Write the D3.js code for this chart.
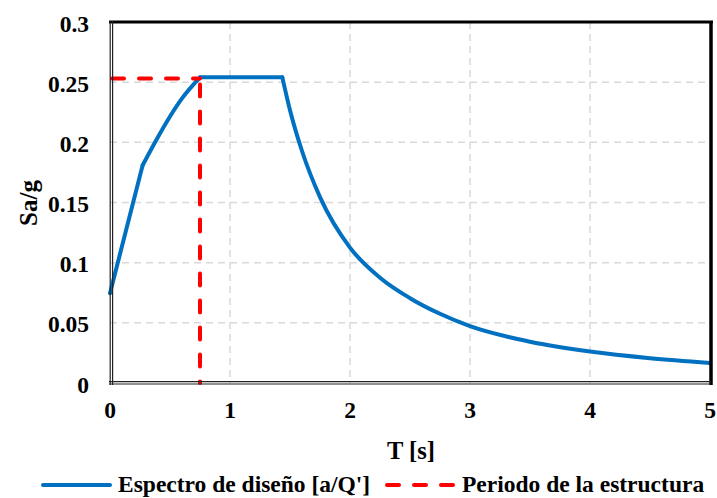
<!DOCTYPE html>
<html>
<head>
<meta charset="utf-8">
<script src="https://cdn.jsdelivr.net/npm/d3@7"></script>
<style>
html,body{margin:0;padding:0;background:#fff;}
svg{display:block;}
text{font-family:"Liberation Serif","Times New Roman","DejaVu Serif",serif;font-weight:bold;fill:#000;}
</style>
</head>
<body>
<svg id="chart" width="717" height="498"></svg>
<script>
// ---- data ----
const periodT = [0, 0.272, 0.4, 0.5, 0.6, 0.75, 1.436, 1.5, 1.6, 1.75, 2.0, 2.25, 2.5, 2.75, 3.0, 3.5, 4.0, 4.5, 5.0];
const spectrumSa = [0.0746, 0.181, 0.2045, 0.2215, 0.2365, 0.254, 0.254, 0.2267, 0.1928, 0.1545, 0.1125, 0.0875, 0.0705, 0.0575, 0.0472, 0.0343, 0.0261, 0.0206, 0.0167];
const segmentBreaks = [0, 1, 5, 6, 18]; // knee, plateau start, plateau end, last
const structurePeriod = 0.75;
const structureSa = 0.253;
const xTicks = [0, 1, 2, 3, 4, 5];
const yTicks = [0, 0.05, 0.1, 0.15, 0.2, 0.25, 0.3];
const yTickLabels = ["0", "0.05", "0.1", "0.15", "0.2", "0.25", "0.3"];
const legendLabels = ["Espectro de diseño [a/Q']", "Periodo de la estructura"];
const xTitle = "T [s]";
const yTitle = "Sa/g";

const svg = d3.select("#chart");
const x = d3.scaleLinear().domain([0, 5]).range([110, 710]);
const y = d3.scaleLinear().domain([0, 0.3]).range([383, 22]);
const blue = "#0070C0", red = "#FF0000";

// grid
const grid = svg.append("g").attr("stroke", "#d9d9d9").attr("stroke-width", 1.5).attr("stroke-dasharray", "7,5");
grid.selectAll(".gx").data(xTicks.filter(t => t > 0 && t < 5)).enter().append("line")
  .attr("x1", d => x(d)).attr("x2", d => x(d)).attr("y1", y(0.3)).attr("y2", y(0));
grid.selectAll(".gy").data(yTicks.filter(t => t > 0 && t < 0.3)).enter().append("line")
  .attr("y1", d => y(d)).attr("y2", d => y(d)).attr("x1", x(0)).attr("x2", x(5));

// spectrum line, segment by segment
const pts = periodT.map((t, i) => [t, spectrumSa[i]]);
const line = d3.line().x(d => x(d[0])).y(d => y(d[1])).curve(d3.curveMonotoneX);
for (let s = 0; s < segmentBreaks.length - 1; s++) {
  svg.append("path").datum(pts.slice(segmentBreaks[s], segmentBreaks[s + 1] + 1))
    .attr("d", line).attr("fill", "none").attr("stroke", blue).attr("stroke-width", 4)
    .attr("stroke-linejoin", "round").attr("stroke-linecap", "round");
}

// structure period dashed lines
const dashAttrs = sel => sel.attr("stroke", red).attr("stroke-width", 4).attr("stroke-dasharray", "12,15").attr("stroke-linecap", "round").attr("fill", "none");
svg.append("line").attr("x1", x(0) + 2).attr("x2", x(structurePeriod)).attr("y1", y(structureSa)).attr("y2", y(structureSa)).call(dashAttrs);
svg.append("line").attr("x1", x(structurePeriod)).attr("x2", x(structurePeriod)).attr("y1", y(structureSa)).attr("y2", y(0)).call(dashAttrs)
  .attr("stroke-dashoffset", -6);

// frame
svg.append("line").attr("x1", 109).attr("x2", 713).attr("y1", 22).attr("y2", 22).attr("stroke", "#000").attr("stroke-width", 3);
svg.append("line").attr("x1", 711).attr("x2", 711).attr("y1", 21).attr("y2", 385).attr("stroke", "#000").attr("stroke-width", 3.5);
// double lines left and bottom
[110.2, 112.6].forEach(px => svg.append("line").attr("x1", px).attr("x2", px).attr("y1", 21).attr("y2", 385).attr("stroke", "#222").attr("stroke-width", 1.2));
[381.6, 384].forEach(py => svg.append("line").attr("x1", 109).attr("x2", 711).attr("y1", py).attr("y2", py).attr("stroke", "#222").attr("stroke-width", 1.2));

// tick labels
svg.append("g").selectAll("text").data(xTicks).enter().append("text")
  .attr("x", d => x(d)).attr("y", 418).attr("text-anchor", "middle").attr("font-size", 23.5).text(d => d);
svg.append("g").selectAll("text").data(yTicks).enter().append("text")
  .attr("x", 89).attr("y", d => y(d) + 9.5).attr("text-anchor", "end").attr("font-size", 23.5).text((d, i) => yTickLabels[i]);

// axis titles
svg.append("text").attr("x", 411).attr("y", 459).attr("text-anchor", "middle").attr("font-size", 24.5).text(xTitle);
svg.append("text").attr("transform", "translate(37,203) rotate(-90)").attr("text-anchor", "middle").attr("font-size", 25).text(yTitle);

// legend
svg.append("line").attr("x1", 43).attr("x2", 110).attr("y1", 485).attr("y2", 485).attr("stroke", blue).attr("stroke-width", 4).attr("stroke-linecap", "round");
svg.append("text").attr("x", 118).attr("y", 492).attr("font-size", 23.5).text(legendLabels[0]);
svg.append("line").attr("x1", 387).attr("x2", 453).attr("y1", 485).attr("y2", 485).call(dashAttrs);
svg.append("text").attr("x", 462).attr("y", 492).attr("font-size", 23.5).text(legendLabels[1]);
</script>
</body>
</html>
